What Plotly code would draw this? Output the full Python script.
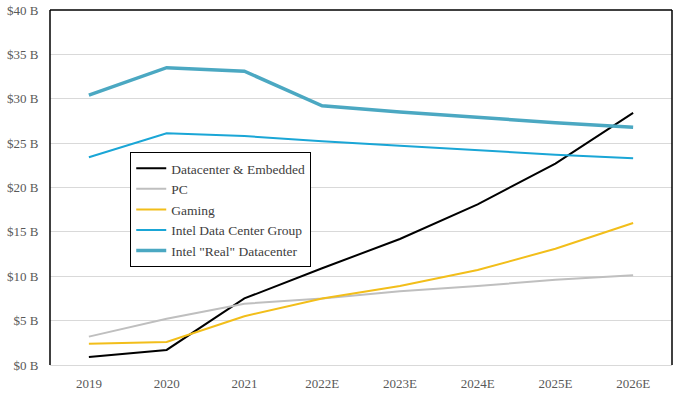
import plotly.graph_objects as go

years = ["2019", "2020", "2021", "2022E", "2023E", "2024E", "2025E", "2026E"]
datacenter_embedded = [0.9, 1.7, 7.5, 10.9, 14.2, 18.1, 22.7, 28.4]
pc = [3.2, 5.2, 6.9, 7.5, 8.3, 8.9, 9.6, 10.1]
gaming = [2.4, 2.6, 5.5, 7.5, 8.9, 10.7, 13.1, 16.0]
intel_dcg = [23.4, 26.1, 25.8, 25.2, 24.7, 24.2, 23.7, 23.3]
intel_real = [30.4, 33.5, 33.1, 29.2, 28.5, 27.9, 27.3, 26.8]

series = [
    ("Datacenter & Embedded", datacenter_embedded, "#000000", 2),
    ("PC", pc, "#BFBFBF", 2),
    ("Gaming", gaming, "#F2BE1A", 2),
    ("Intel Data Center Group", intel_dcg, "#1AA6D6", 2),
    ('Intel "Real" Datacenter', intel_real, "#4BA8C2", 3.5),
]

fig = go.Figure()
for i, (name, vals, color, w) in enumerate(series):
    fig.add_trace(go.Scatter(x=years, y=vals, mode="lines", name=name,
                             line=dict(color=color, width=w)))

fig.update_layout(
    width=680, height=397,
    margin=dict(l=50, r=8, t=10, b=32, autoexpand=False),
    paper_bgcolor="white", plot_bgcolor="white",
    font=dict(family="Liberation Serif", size=13, color="#595959"),
    showlegend=True,
    legend=dict(x=0.129, y=0.6, xanchor="left", yanchor="top",
                bgcolor="white", bordercolor="black", borderwidth=1,
                font=dict(family="Liberation Serif", size=13.5, color="#404040"),
                itemwidth=30),
    xaxis=dict(showgrid=False, showline=True, linecolor="#D9D9D9", linewidth=1,
               range=[-0.5, 7.5], automargin=False,
               ticks="outside", ticklen=6, tickcolor="rgba(0,0,0,0)",
               tickfont=dict(size=13)),
    yaxis=dict(range=[0, 40], dtick=5, tickprefix="$", ticksuffix=" B",
               showgrid=True, gridcolor="#D9D9D9", gridwidth=1, automargin=False,
               zeroline=False, showline=False, ticks="outside", ticklen=8,
               tickcolor="rgba(0,0,0,0)", tickfont=dict(size=13)),
    shapes=[
        dict(type="line", xref="paper", yref="paper", x0=0, x1=0, y0=0, y1=1,
             line=dict(color="black", width=1.5)),
        dict(type="line", xref="paper", yref="paper", x0=0, x1=1, y0=1, y1=1,
             line=dict(color="black", width=1.5)),
        dict(type="line", xref="paper", yref="paper", x0=1, x1=1, y0=0, y1=1,
             line=dict(color="black", width=1.5)),
    ],
)

fig.write_html("out.html", config={"displayModeBar": False},
               post_script="document.body.style.margin='0px';")
